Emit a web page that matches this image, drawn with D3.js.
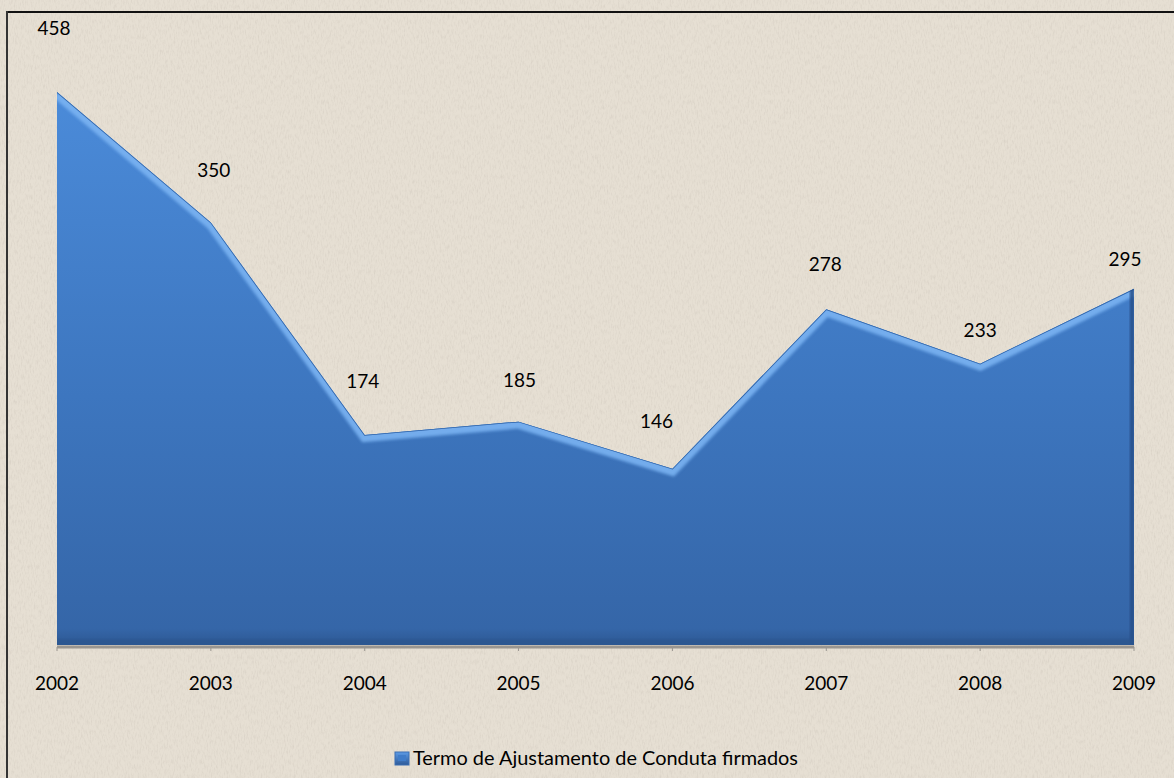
<!DOCTYPE html>
<html>
<head>
<meta charset="utf-8">
<script src="https://cdn.jsdelivr.net/npm/d3@7/dist/d3.min.js"></script>
<style>
  html, body { margin: 0; padding: 0; background: #fff; }
  svg { display: block; }
  text { font-family: Lato, "Open Sans", sans-serif; fill: #000; }
</style>
</head>
<body>
<svg id="chart" width="1174" height="778"></svg>
<script>
// ---- data ----
const years = ["2002", "2003", "2004", "2005", "2006", "2007", "2008", "2009"];
const values = [458, 350, 174, 185, 146, 278, 233, 295];
const seriesName = "Termo de Ajustamento de Conduta firmados";
// label placement nudges (layout only, px): [dx, dy from point]
const labelDx = [-3, 3, -2, 1, -16, -1, 0, -9];
const labelDy = [-57, -45, -47, -35, -41, -38, -27, -23];

const W = 1174, H = 778;
const svg = d3.select("#chart");
const defs = svg.append("defs");

// background texture
const tex = defs.append("filter").attr("id", "tex").attr("x", 0).attr("y", 0).attr("width", 1).attr("height", 1);
tex.append("feTurbulence").attr("type", "fractalNoise").attr("baseFrequency", "0.7 0.2").attr("numOctaves", 3).attr("seed", 7).attr("result", "n");
tex.append("feColorMatrix").attr("in", "n").attr("type", "matrix")
  .attr("values", "0 0 0 0 0.55  0 0 0 0 0.50  0 0 0 0 0.44  1.4 0 0 0 -0.62").attr("result", "c");
tex.append("feComposite").attr("in", "c").attr("in2", "SourceGraphic").attr("operator", "in");

svg.append("rect").attr("width", W).attr("height", H).attr("fill", "#e6dfd3");
svg.append("rect").attr("width", W).attr("height", H).attr("fill", "#e6dfd3").attr("filter", "url(#tex)").attr("opacity", 0.5);

// frame (top and left visible)
svg.append("line").attr("x1", 6).attr("x2", W).attr("y1", 12).attr("y2", 12).attr("stroke", "#111").attr("stroke-width", 2);
svg.append("line").attr("x1", 7).attr("x2", 7).attr("y1", 11).attr("y2", H).attr("stroke", "#333").attr("stroke-width", 2);

// scales
const x = d3.scalePoint().domain(years).range([57, 1134]);
const y = d3.scaleLinear().domain([0, 500]).range([645, 41.3]);

const data = years.map((yr, i) => ({ yr, v: values[i], i }));

// gradient
const grad = defs.append("linearGradient").attr("id", "areaGrad")
  .attr("gradientUnits", "userSpaceOnUse").attr("x1", 0).attr("y1", y(458)).attr("x2", 0).attr("y2", y(0));
grad.append("stop").attr("offset", "0%").attr("stop-color", "#4b8bd9");
grad.append("stop").attr("offset", "55%").attr("stop-color", "#3d76bf");
grad.append("stop").attr("offset", "97%").attr("stop-color", "#3566a8");
grad.append("stop").attr("offset", "100%").attr("stop-color", "#2d5893");

const area = d3.area().x(d => x(d.yr)).y0(y(0)).y1(d => y(d.v));
const line = d3.line().x(d => x(d.yr)).y(d => y(d.v));

defs.append("clipPath").attr("id", "areaClip").append("path").datum(data).attr("d", area);

const blur = defs.append("filter").attr("id", "blur").attr("x", -0.1).attr("y", -0.1).attr("width", 1.2).attr("height", 1.2);
blur.append("feGaussianBlur").attr("stdDeviation", 1.6);

// axis line (gray) under area
svg.append("line").attr("x1", x(years[0])).attr("x2", x(years[years.length - 1]))
  .attr("y1", y(0) + 2).attr("y2", y(0) + 2).attr("stroke", "#9a9690").attr("stroke-width", 3);
svg.selectAll("line.tick").data(years).enter().append("line").attr("class", "tick")
  .attr("x1", d => x(d)).attr("x2", d => x(d)).attr("y1", y(0) + 2).attr("y2", y(0) + 6)
  .attr("stroke", "#9a9690").attr("stroke-width", 1);

// area
svg.append("path").datum(data).attr("d", area).attr("fill", "url(#areaGrad)");

const bev = svg.append("g").attr("clip-path", "url(#areaClip)");
// top highlight bevel
bev.append("path").datum(data).attr("d", line).attr("fill", "none")
  .attr("stroke", "#7ab3f2").attr("stroke-width", 10).attr("filter", "url(#blur)").attr("opacity", 0.9)
  .attr("transform", "translate(0,2)");
bev.append("path").datum(data).attr("d", line).attr("fill", "none")
  .attr("stroke", "#2f62a6").attr("stroke-width", 1.5);
// right edge darker
bev.append("rect").attr("x", x("2009") - 4).attr("y", 0).attr("width", 4).attr("height", y(0))
  .attr("fill", "#264e88").attr("filter", "url(#blur)");
// bottom shadow
bev.append("rect").attr("x", 0).attr("y", y(0) - 6).attr("width", W).attr("height", 6)
  .attr("fill", "#2b568f").attr("opacity", 0.7).attr("filter", "url(#blur)");

// value labels
svg.selectAll("text.val").data(data).enter().append("text").attr("class", "val")
  .attr("x", d => x(d.yr) + labelDx[d.i]).attr("y", d => y(d.v) + labelDy[d.i])
  .attr("text-anchor", "middle").style("font-size", "19px").text(d => d.v);

// category labels
svg.selectAll("text.cat").data(years).enter().append("text").attr("class", "cat")
  .attr("x", d => x(d)).attr("y", 690).attr("text-anchor", "middle").style("font-size", "19px").text(d => d);

// legend
const lg = defs.append("linearGradient").attr("id", "legGrad").attr("x1", 0).attr("y1", 0).attr("x2", 0).attr("y2", 1);
lg.append("stop").attr("offset", "0%").attr("stop-color", "#5c9be6");
lg.append("stop").attr("offset", "100%").attr("stop-color", "#2e5a98");
svg.append("rect").attr("x", 395).attr("y", 752).attr("width", 14).attr("height", 13)
  .attr("fill", "url(#legGrad)").attr("stroke", "#3a6fb3").attr("stroke-width", 1);
svg.append("rect").attr("x", 398).attr("y", 755).attr("width", 8).attr("height", 6).attr("fill", "#3f7cc9");
svg.append("text").attr("x", 413).attr("y", 765).style("font-size", "19px")
  .attr("textLength", 385).attr("lengthAdjust", "spacingAndGlyphs").text(seriesName);
</script>
</body>
</html>
